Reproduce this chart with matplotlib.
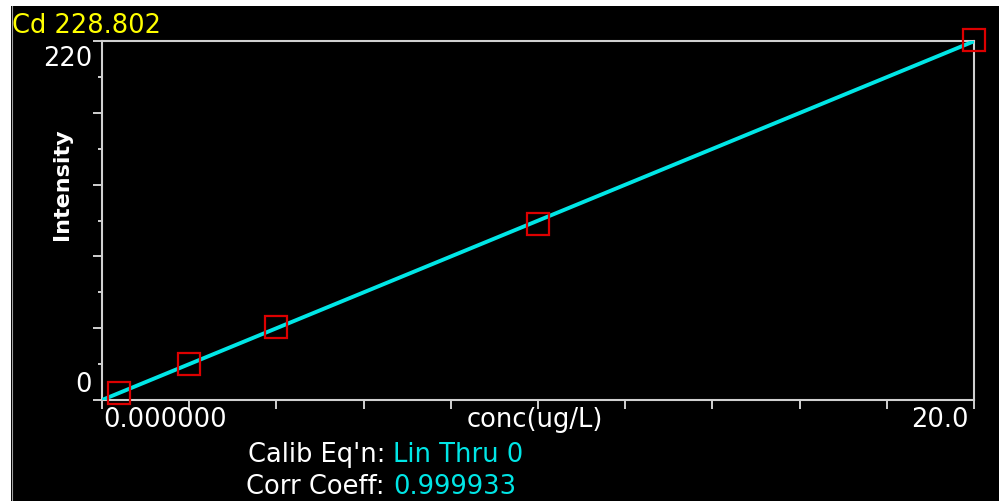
import matplotlib
matplotlib.use('Agg')
import matplotlib.pyplot as plt
from matplotlib.patches import Rectangle
from matplotlib.lines import Line2D
import numpy as np

# calibration standards
conc = [0.4, 2.0, 4.0, 10.0, 20.0]
intensity = [4.4, 22.0, 45.0, 108.0, 220.6]

title = "Cd 228.802"
x_label = "conc(ug/L)"
y_label = "Intensity"
x_tick_text = ["0.000000", "20.0"]
y_tick_text = ["0", "220"]
eq_name = "Lin Thru 0"
corr_coeff = "0.999933"

W, H = 999, 502
DPI = 100

def fx(x):
    return x / W

def fy(y):
    return 1 - y / H

grey = '#d0d0d0'
cyan = '#00e6e6'
fs = 18.5

fig = plt.figure(figsize=(W / DPI, H / DPI), dpi=DPI, facecolor='black')
# thin white strip on top and left of the screenshot
fig.patches.append(Rectangle((0, fy(7)), 1, 1 - fy(7), transform=fig.transFigure,
                             facecolor='white', edgecolor='none', zorder=-1))
fig.patches.append(Rectangle((0, 0), fx(11), 1, transform=fig.transFigure,
                             facecolor='white', edgecolor='none', zorder=-1))
fig.lines.append(Line2D([fx(11.5), fx(11.5)], [0, fy(7)], transform=fig.transFigure,
                        color='#a0a0a0', lw=0.8, zorder=-1))

ax = fig.add_axes([fx(102), fy(401), fx(974) - fx(102), fy(42) - fy(401)])
ax.set_facecolor('black')
ax.set_xlim(0, 20)
ax.set_ylim(0, 220)

for s in ax.spines.values():
    s.set_color(grey)
    s.set_linewidth(1.5)

ax.set_xticks(np.arange(0, 21, 2))
ax.set_xticklabels([])
ax.set_yticks(np.arange(0, 221, 44))
ax.set_yticks(np.arange(22, 220, 44), minor=True)
ax.set_yticklabels([])
ax.tick_params(axis='x', which='major', direction='out', length=6.5, width=1.4, color=grey)
ax.tick_params(axis='y', which='major', direction='out', length=6.5, width=1.4, color=grey)
ax.tick_params(axis='y', which='minor', direction='out', length=3, width=1.4, color=grey)

# linear fit through zero
x = np.array(conc)
y = np.array(intensity)
slope = (x * y).sum() / (x * x).sum()
fit_x = np.array([0, 20.0])
ax.plot(fit_x, slope * fit_x, color=cyan, lw=2.8, solid_capstyle='butt', zorder=3)
ax.plot(conc, intensity, ls='none', marker='s', ms=16.3, mfc='none', mec='#dd0000',
        mew=1.6, clip_on=False, zorder=4)

# tick labels
ax.annotate(y_tick_text[1], xy=(0, 220), xycoords=('axes fraction', 'data'),
            xytext=(-10, -24), textcoords='offset pixels', ha='right', va='baseline',
            color='white', fontsize=fs)
ax.annotate(y_tick_text[0], xy=(0, 0), xycoords=('axes fraction', 'data'),
            xytext=(-10, 9), textcoords='offset pixels', ha='right', va='baseline',
            color='white', fontsize=fs)
ax.annotate(x_tick_text[0], xy=(0, 0), xycoords=('data', 'axes fraction'),
            xytext=(1, -26), textcoords='offset pixels', ha='left', va='baseline',
            color='white', fontsize=fs)
ax.annotate(x_tick_text[1], xy=(20, 0), xycoords=('data', 'axes fraction'),
            xytext=(-5, -26), textcoords='offset pixels', ha='right', va='baseline',
            color='white', fontsize=fs)
ax.annotate(x_label, xy=(0.5, 0), xycoords='axes fraction',
            xytext=(-3, -26), textcoords='offset pixels', ha='center', va='baseline',
            color='white', fontsize=fs)

fig.text(fx(62), fy(184), y_label, rotation=90, ha='center', va='center',
         color='white', fontsize=16, fontweight='bold')
fig.text(fx(12), fy(33), title, ha='left', va='baseline', color='#ffff00', fontsize=fs)

fig.text(fx(385), fy(462), "Calib Eq'n:", ha='right', va='baseline', color='white', fontsize=fs)
fig.text(fx(393), fy(462), eq_name, ha='left', va='baseline', color=cyan, fontsize=fs)
fig.text(fx(385), fy(494), "Corr Coeff:", ha='right', va='baseline', color='white', fontsize=fs)
fig.text(fx(393), fy(494), corr_coeff, ha='left', va='baseline', color=cyan, fontsize=fs)

fig.savefig('out.png', dpi=DPI, facecolor=fig.get_facecolor())
